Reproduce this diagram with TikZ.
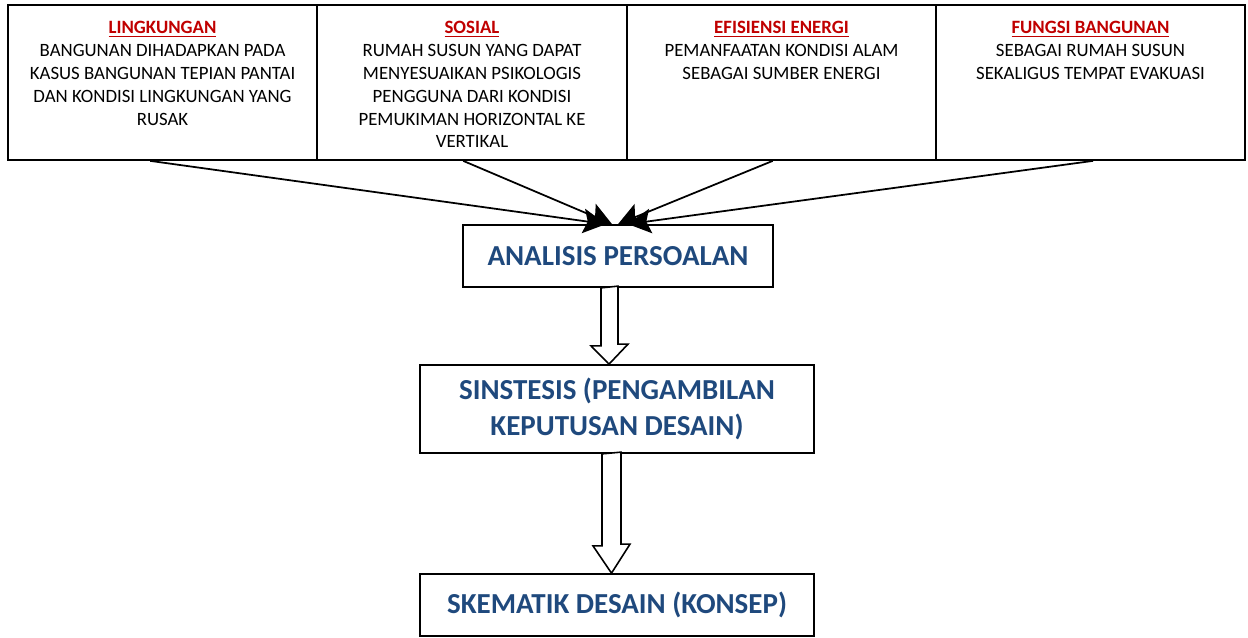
\documentclass[tikz,border=0pt]{standalone}
\usepackage{fontspec}
\setmainfont{Carlito}
\usetikzlibrary{arrows.meta,calc}
\definecolor{merah}{RGB}{192,0,0}
\definecolor{biru}{RGB}{31,73,125}
\begin{document}
\begin{tikzpicture}[x=0.02cm, y=-0.02cm, line join=miter, >={Stealth[length=13pt,width=14pt,inset=2.5pt]}]
				\tikzset{box style/.style={draw, line width=1pt, minimum width=6.18cm, minimum height=3.1cm, inner sep=0pt},
					isi style/.style={anchor=north, align=center, inner sep=0pt, font=\fontsize{10.7}{13}\selectfont},
					proses style/.style={draw, line width=1pt, align=center, inner sep=0pt, text=biru, font=\fontsize{16.5}{20.4}\selectfont\bfseries}}
				\useasboundingbox (0,0) rectangle (1248,637);
				% kotak atas
				\foreach \n/\x in {b1/162.5, b2/472, b3/781.5, b4/1090.5} \node[box style] (\n) at (\x,82.5) {};
				\node[isi style] (t1) at (162.5,21) {\textcolor{merah}{\underline{\textbf{LINGKUNGAN}}}\\BANGUNAN DIHADAPKAN PADA\\KASUS BANGUNAN TEPIAN PANTAI\\DAN KONDISI LINGKUNGAN YANG\\RUSAK};
				\node[isi style] (t2) at (472,21) {\textcolor{merah}{\underline{\textbf{SOSIAL}}}\\RUMAH SUSUN YANG DAPAT\\MENYESUAIKAN PSIKOLOGIS\\PENGGUNA DARI KONDISI\\PEMUKIMAN HORIZONTAL KE\\VERTIKAL};
				\node[isi style] (t3) at (781.5,21) {\textcolor{merah}{\underline{\textbf{EFISIENSI ENERGI}}}\\PEMANFAATAN KONDISI ALAM\\SEBAGAI SUMBER ENERGI};
				\node[isi style] (t4) at (1090.5,21) {\textcolor{merah}{\underline{\textbf{FUNGSI BANGUNAN}}}\\SEBAGAI RUMAH SUSUN\\SEKALIGUS TEMPAT EVAKUASI};
				% kotak proses
				\node[proses style, minimum width=6.2cm, minimum height=1.24cm] (ana) at (618,256) {ANALISIS PERSOALAN};
				\node[proses style, minimum width=7.88cm, minimum height=1.76cm] (sin) at (617,409) {SINSTESIS (PENGAMBILAN\\KEPUTUSAN DESAIN)};
				\node[proses style, minimum width=7.88cm, minimum height=1.24cm] (ske) at (617,605) {SKEMATIK DESAIN (KONSEP)};
				% panah
				\draw[->, line width=1pt] ([xshift=-7pt]b1.south) -- ([xshift=-6.8pt]ana.north);
				\draw[->, line width=1pt] ([xshift=-5pt]b2.south) -- ([xshift=-3.4pt]ana.north);
				\draw[->, line width=1pt] ([xshift=-5pt]b3.south) -- (ana.north);
				\draw[->, line width=1pt] ([xshift=1.4pt]b4.south) -- ([xshift=5.7pt]ana.north);
				\draw[fill=white, line width=0.9pt] ($(ana.south)+(-17,0)$) -- ++(0,58) -- ++(-10,0) -- ($(sin.north)+(-8,0)$) -- ++(19,-20) -- ++(-10,0) -- ++(0,-58) -- cycle;
				\draw[fill=white, line width=0.9pt] ($(sin.south)+(-15,0)$) -- ++(0,92) -- ++(-9,0) -- ($(ske.north)+(-5.5,0)$) -- ++(18.5,-29) -- ++(-9,0) -- ++(0,-92) -- cycle;
			\end{tikzpicture}
\end{document}
